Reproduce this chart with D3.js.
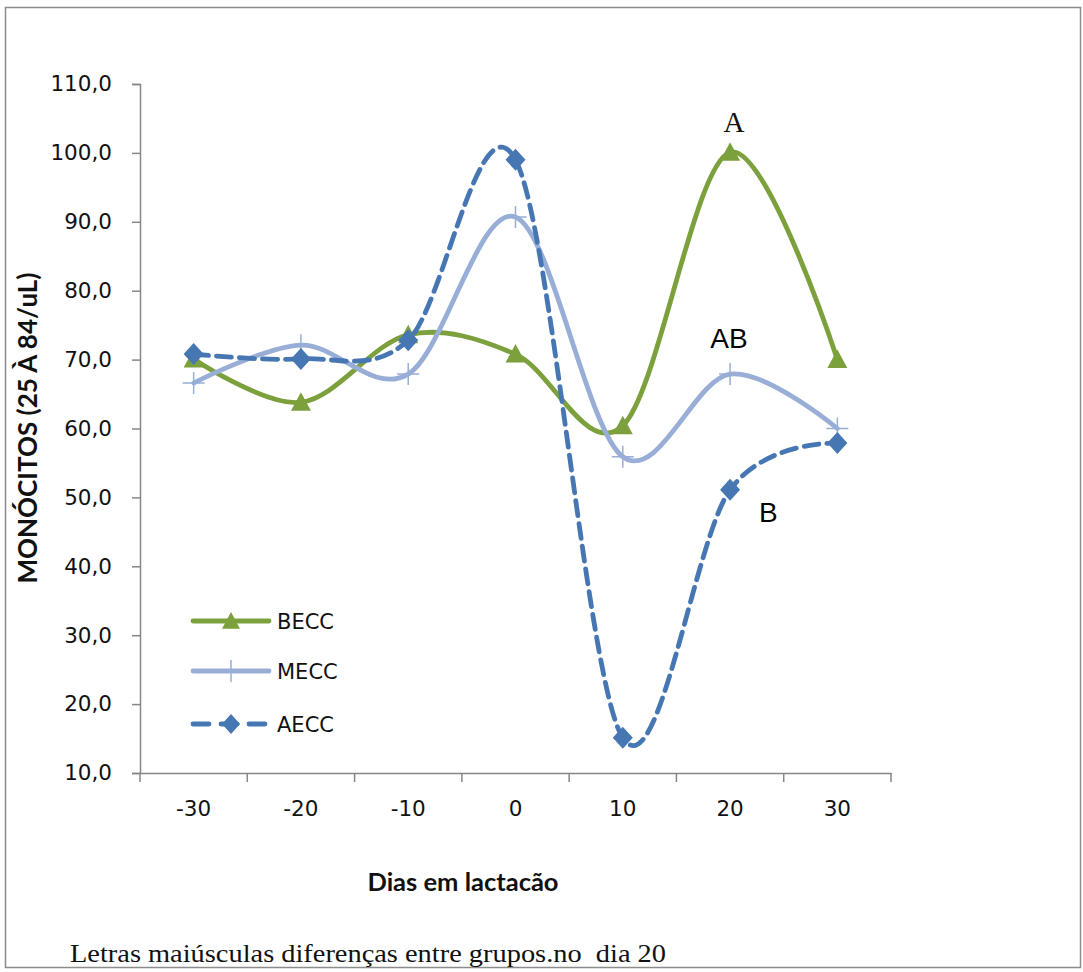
<!DOCTYPE html>
<html>
<head>
<meta charset="utf-8">
<script src="https://cdn.jsdelivr.net/npm/d3@7"></script>
<style>
  body { margin: 0; background: #fff; }
  svg { display: block; }
</style>
</head>
<body>
<svg id="chart" width="1083" height="972"></svg>
<script>
const days = ["-30", "-20", "-10", "0", "10", "20", "30"];
const becc = [70.1, 63.8, 73.6, 70.8, 60.4, 100.1, 70.0];
const mecc = [66.6, 72.1, 67.9, 90.7, 55.9, 67.9, 60.0];
const aecc = [70.8, 70.1, 72.8, 99.0, 15.1, 51.1, 57.9];
const yTicks = [10, 20, 30, 40, 50, 60, 70, 80, 90, 100, 110];

const series = [
  { name: "BECC", values: becc, color: "#7ba03c", dash: null, marker: "triangle" },
  { name: "MECC", values: mecc, color: "#98aed6", dash: null, marker: "plus" },
  { name: "AECC", values: aecc, color: "#4677b3", dash: "15,8", marker: "diamond" },
];

const svg = d3.select("#chart");
const plotLeft = 140, plotRight = 891, plotTop = 84, plotBottom = 773;
const sans = "DejaVu Sans, Verdana, sans-serif";
const titleFont = "Lato, Open Sans, sans-serif";

// outer frame
svg.append("rect")
  .attr("x", 5.5).attr("y", 7.5)
  .attr("width", 1075).attr("height", 960)
  .attr("fill", "#fff").attr("stroke", "#8c8c8c").attr("stroke-width", 1.5);

const x = d3.scaleBand().domain(days).range([plotLeft, plotRight]);
const y = d3.scaleLinear().domain([10, 110]).range([plotBottom, plotTop]);

const yAxis = svg.append("g")
  .attr("transform", "translate(" + plotLeft + ",0)")
  .call(d3.axisLeft(y).tickValues(yTicks).tickSize(8).tickPadding(20)
    .tickFormat((d) => d3.format(".1f")(d).replace(".", ",")));
yAxis.selectAll("text")
  .attr("font-family", sans)
  .attr("font-size", 21.5).attr("fill", "#111");

const xAxis = svg.append("g")
  .attr("transform", "translate(0," + plotBottom + ")")
  .call(d3.axisBottom(x).tickSize(0).tickPadding(28));
xAxis.selectAll("text")
  .attr("font-family", sans)
  .attr("font-size", 21.5).attr("fill", "#111");
// tick marks between categories
const bounds = days.map((d) => x(d)).concat([plotRight]);
xAxis.selectAll(".bound")
  .data(bounds)
  .enter()
  .append("line")
  .attr("class", "bound")
  .attr("x1", (d) => d).attr("x2", (d) => d)
  .attr("y1", 0).attr("y2", 9)
  .attr("stroke", "#868686").attr("stroke-width", 1.5);

svg.selectAll(".domain").attr("stroke", "#868686").attr("stroke-width", 1.5);
yAxis.selectAll(".tick line").attr("stroke", "#868686").attr("stroke-width", 1.5);

const cx = (i) => x(days[i]) + x.bandwidth() / 2;

const line = d3.line()
  .x((d, i) => cx(i))
  .y((d) => y(d))
  .curve(d3.curveCardinal.tension(0));

const drawMarker = (g, type, color, px, py, s) => {
  if (type === "triangle") {
    g.append("path")
      .attr("d", "M" + px + "," + (py - s) + "L" + (px + s) + "," + (py + s * 0.85) + "L" + (px - s) + "," + (py + s * 0.85) + "Z")
      .attr("fill", color);
  } else if (type === "diamond") {
    g.append("path")
      .attr("d", "M" + px + "," + (py - s * 1.1) + "L" + (px + s) + "," + py + "L" + px + "," + (py + s * 1.1) + "L" + (px - s) + "," + py + "Z")
      .attr("fill", color);
  } else {
    g.append("path")
      .attr("d", "M" + (px - s) + "," + py + "H" + (px + s) + "M" + px + "," + (py - s) + "V" + (py + s))
      .attr("stroke", color).attr("stroke-width", 1.5);
  }
};

series.forEach((s) => {
  const g = svg.append("g");
  g.append("path")
    .datum(s.values)
    .attr("d", line)
    .attr("fill", "none")
    .attr("stroke", s.color)
    .attr("stroke-width", 4.8)
    .attr("stroke-linecap", "round")
    .attr("stroke-dasharray", s.dash);
  s.values.forEach((v, i) => {
    drawMarker(g, s.marker, s.color, cx(i), y(v), s.marker === "plus" ? 11 : 10);
  });
});

// legend
const legendY = [621, 671, 724];
series.forEach((s, i) => {
  const g = svg.append("g");
  g.append("line")
    .attr("x1", 193).attr("x2", 269)
    .attr("y1", legendY[i]).attr("y2", legendY[i])
    .attr("stroke", s.color).attr("stroke-width", 4.8)
    .attr("stroke-linecap", "round")
    .attr("stroke-dasharray", s.dash ? "16,12" : null);
  drawMarker(g, s.marker, s.color, 231, legendY[i], s.marker === "plus" ? 11 : 9);
  g.append("text")
    .attr("x", 277).attr("y", legendY[i] + 7.5)
    .attr("font-family", sans)
    .attr("font-size", 21).attr("fill", "#111")
    .text(s.name);
});

// axis titles
svg.append("text")
  .attr("x", 463).attr("y", 891)
  .attr("text-anchor", "middle")
  .attr("font-family", titleFont)
  .attr("font-size", 25.5).attr("font-weight", "bold").attr("fill", "#111")
  .text("Dias em lactacão");

svg.append("text")
  .attr("transform", "translate(37,428) rotate(-90)")
  .attr("text-anchor", "middle")
  .attr("font-family", titleFont)
  .attr("font-size", 26).attr("font-weight", "bold").attr("fill", "#111")
  .text("MONÓCITOS (25 À 84/uL)");

// letters for day 20
svg.append("text")
  .attr("x", 734).attr("y", 132)
  .attr("text-anchor", "middle")
  .attr("font-family", "Liberation Serif, serif")
  .attr("font-size", 29).attr("fill", "#111")
  .text("A");
svg.append("text")
  .attr("x", 729).attr("y", 348)
  .attr("text-anchor", "middle")
  .attr("font-family", "Liberation Sans, Arial, sans-serif")
  .attr("font-size", 28).attr("fill", "#000")
  .text("AB");
svg.append("text")
  .attr("x", 759).attr("y", 522)
  .attr("font-family", "Liberation Sans, Arial, sans-serif")
  .attr("font-size", 28).attr("fill", "#000")
  .text("B");

// footnote
svg.append("text")
  .attr("x", 70).attr("y", 962)
  .attr("font-family", "Liberation Serif, serif")
  .attr("font-size", 25).attr("fill", "#111")
  .attr("textLength", 596)
  .attr("lengthAdjust", "spacingAndGlyphs")
  .style("white-space", "pre")
  .text("Letras maiúsculas diferenças entre grupos.no  dia 20");
</script>
</body>
</html>
